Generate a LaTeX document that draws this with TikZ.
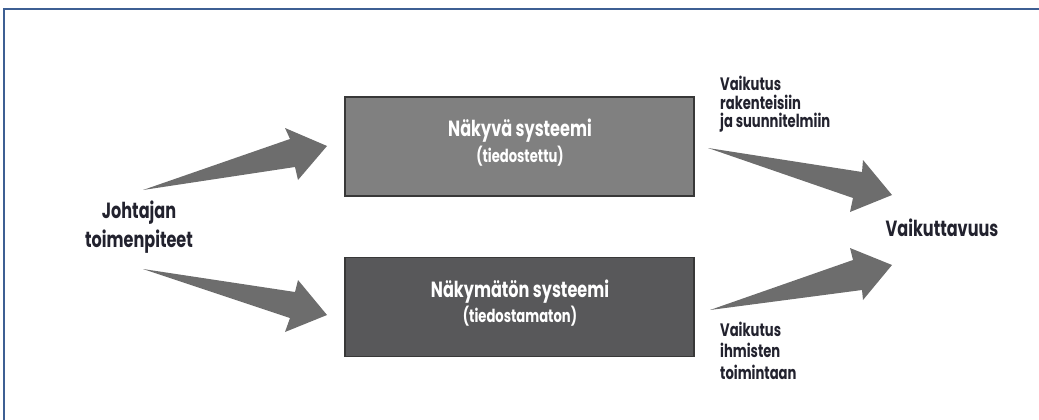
\documentclass[tikz,border=0pt]{standalone}
\usepackage{fontspec}
\newfontfamily\fut[FakeStretch=0.73]{Poppins}
\definecolor{framecol}{HTML}{3D5F93}
\definecolor{arrowcol}{HTML}{6D6D6D}
\definecolor{lightbox}{HTML}{808080}
\definecolor{darkbox}{HTML}{58585A}
\definecolor{boxline}{HTML}{383838}
\definecolor{inkcol}{HTML}{22222E}
\begin{document}
\begin{tikzpicture}[x=1pt,y=-1pt,
  sysbox/.style={draw=boxline, line width=1.6pt, minimum width=349pt, minimum height=99pt, inner sep=0pt},
  boxtitle/.style={text=white, font=\fut\bfseries\fontsize{22}{24}\selectfont, anchor=base, inner sep=0pt},
  boxsub/.style={text=white, font=\fut\bfseries\fontsize{18}{20}\selectfont, anchor=base, inner sep=0pt},
  biglabel/.style={text=inkcol, font=\fut\bfseries\fontsize{22}{24}\selectfont, anchor=base, inner sep=0pt},
  smalllabel/.style={text=inkcol, font=\fut\bfseries\fontsize{18}{20}\selectfont, anchor=base west, inner sep=0pt},
  fatarrow/.style={fill=arrowcol, draw=none}]
\useasboundingbox (0,0) rectangle (1039,420);
% outer frame (top and left edges)
\draw[framecol, line width=2pt] (4,421) -- (4,9) -- (1040,9);

% the two systems
\node[sysbox, fill=lightbox] (visible) at (519.5,146.5) {};
\node[sysbox, fill=darkbox] (hidden) at (519.5,307) {};
\node[boxtitle] (visT) at (520,136) {Näkyvä systeemi};
\node[boxsub] (visS) at (520,162) {(tiedostettu)};
\node[boxtitle] (hidT) at (520,297) {Näkymätön systeemi};
\node[boxsub] (hidS) at (520,322) {(tiedostamaton)};

% side labels
\node[biglabel] (lead1) at (139,218) {Johtajan};
\node[biglabel] (lead2) at (139,247) {toimenpiteet};
\node[biglabel] (effect) at (942,236) {Vaikuttavuus};

\node[smalllabel] (up1) at (720,91) {Vaikutus};
\node[smalllabel] (up2) at (720,109) {rakenteisiin};
\node[smalllabel] (up3) at (720,127) {ja suunnitelmiin};
\node[smalllabel] (lo1) at (720,336) {Vaikutus};
\node[smalllabel] (lo2) at (720,357) {ihmisten};
\node[smalllabel] (lo3) at (720,379) {toimintaan};

% tapered arrows
\fill[fatarrow] (143,190) -- (290,139) -- (285,128) -- (327,146) -- (298,180) -- (295,167) -- cycle;
\fill[fatarrow] (143,269) -- (295,292) -- (298,280) -- (327,315) -- (285,332) -- (290,318) -- cycle;
\fill[fatarrow] (708,148) -- (862,172) -- (863,160) -- (892,195) -- (850,212) -- (853,198) -- cycle;
\fill[fatarrow] (710,310) -- (853,260) -- (850,248) -- (892,265) -- (863,300) -- (862,290) -- cycle;
\end{tikzpicture}
\end{document}
